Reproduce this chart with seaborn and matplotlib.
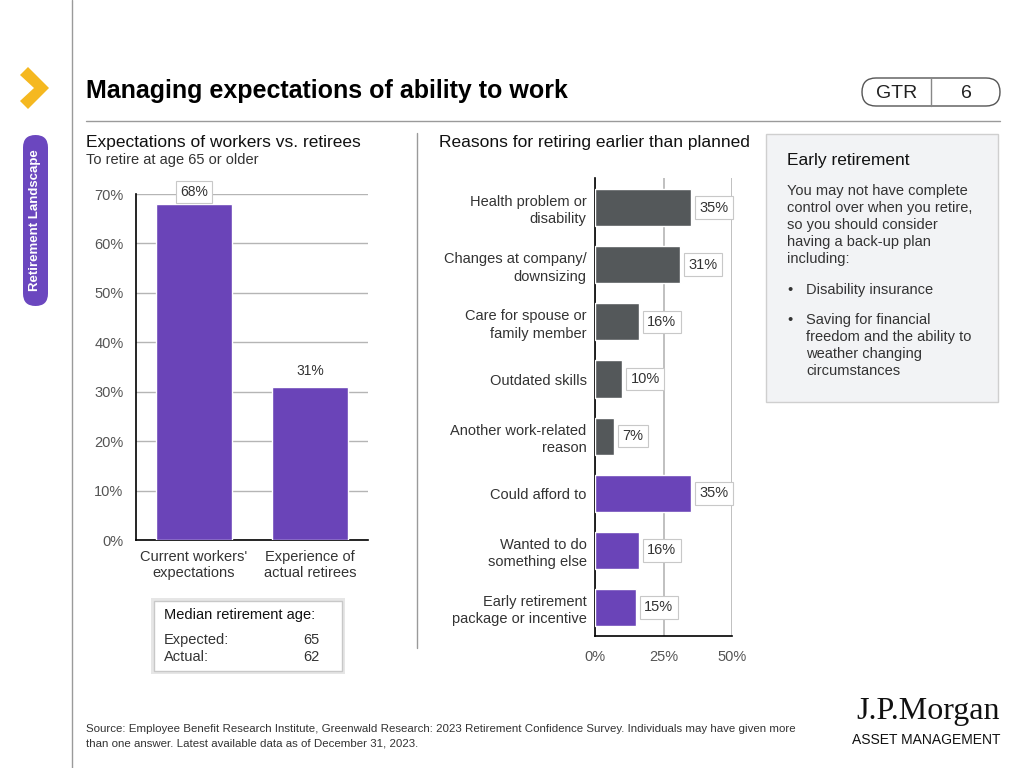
import matplotlib
matplotlib.use("Agg")
import matplotlib.pyplot as plt
from matplotlib.patches import FancyBboxPatch, Rectangle, Polygon
import seaborn as sns
import pandas as pd

# ---- data ----
expect_cats = ["Current workers'\nexpectations", "Experience of\nactual retirees"]
expect_vals = [68, 31]

reasons = [
    "Health problem or\ndisability",
    "Changes at company/\ndownsizing",
    "Care for spouse or\nfamily member",
    "Outdated skills",
    "Another work-related\nreason",
    "Could afford to",
    "Wanted to do\nsomething else",
    "Early retirement\npackage or incentive",
]
reason_vals = [35, 31, 16, 10, 7, 35, 16, 15]
reason_group = ["neg", "neg", "neg", "neg", "neg", "pos", "pos", "pos"]

PURPLE = "#6a44b8"
GRAY = "#54585a"
TXT = "#333333"

sns.set_theme(style="white")
plt.rcParams["font.family"] = ["Liberation Sans", "DejaVu Sans"]

W, H = 1024, 768
fig = plt.figure(figsize=(W / 100, H / 100), dpi=100)

# background overlay in pixel coordinates
bg = fig.add_axes([0, 0, 1, 1], zorder=-1)
bg.set_xlim(0, W)
bg.set_ylim(H, 0)
bg.axis("off")


def ax_rect(left, top, right, bottom):
    return [left / W, 1 - bottom / H, (right - left) / W, (bottom - top) / H]


# ---- left chart ----
ax1 = fig.add_axes(ax_rect(136, 194, 368, 540))
sns.barplot(x=expect_cats, y=expect_vals, color=PURPLE, width=0.65,
            saturation=1, ax=ax1, zorder=3)
ax1.set_xlim(-0.5, 1.5)
ax1.set_ylim(0, 70)
ax1.set_yticks(range(0, 71, 10))
ax1.set_yticklabels([f"{v}%" for v in range(0, 71, 10)])
ax1.grid(axis="y", color="#b5b5b5", lw=1, zorder=0)
ax1.set_axisbelow(True)
for s in ["top", "right"]:
    ax1.spines[s].set_visible(False)
for s in ["left", "bottom"]:
    ax1.spines[s].set_color("black")
    ax1.spines[s].set_linewidth(1.2)
ax1.tick_params(axis="y", length=0, pad=9, labelsize=10.5, labelcolor="#555555")
ax1.tick_params(axis="x", length=0, pad=7, labelsize=10.5, labelcolor=TXT)
for lab in ax1.get_xticklabels():
    lab.set_linespacing(1.25)
ax1.set_xlabel("")
ax1.set_ylabel("")
for i, v in enumerate(expect_vals):
    if i == 0:
        ax1.text(i, v + 1.0, f"{v}%", ha="center", va="bottom", fontsize=10,
                 color=TXT, bbox=dict(boxstyle="square,pad=0.3", fc="white", ec="#c8c8c8", lw=0.8),
                 zorder=5, clip_on=False)
    else:
        ax1.text(i, v + 1.8, f"{v}%", ha="center", va="bottom", fontsize=10,
                 color=TXT, zorder=5)

# ---- right chart ----
df = pd.DataFrame({"reason": reasons, "value": reason_vals, "group": reason_group})
ax2 = fig.add_axes(ax_rect(595, 178, 732, 636))
sns.barplot(data=df, y="reason", x="value", hue="group", dodge=False,
            palette={"neg": GRAY, "pos": PURPLE}, width=0.65, saturation=1,
            legend=False, ax=ax2, zorder=3)
ax2.set_xlim(0, 50)
ax2.set_ylim(7.5, -0.52)
ax2.set_xticks([0, 25, 50])
ax2.set_xticklabels(["0%", "25%", "50%"])
ax2.grid(axis="x", color="#b5b5b5", lw=1.2, zorder=0)
ax2.set_axisbelow(True)
for s in ["top", "right"]:
    ax2.spines[s].set_visible(False)
for s in ["left", "bottom"]:
    ax2.spines[s].set_color("black")
    ax2.spines[s].set_linewidth(1.2)
ax2.tick_params(axis="y", length=0, pad=6, labelsize=10.5, labelcolor=TXT)
ax2.tick_params(axis="x", length=0, pad=10, labelsize=10.5, labelcolor="#555555")
for lab in ax2.get_yticklabels():
    lab.set_linespacing(1.3)
ax2.set_xlabel("")
ax2.set_ylabel("")
for i, v in enumerate(reason_vals):
    ax2.text(v + 3.0, i, f"{v}%", ha="left", va="center", fontsize=10.5, color=TXT,
             bbox=dict(boxstyle="square,pad=0.3", fc="white", ec="#c8c8c8", lw=0.8),
             zorder=5, clip_on=False)

# ---- page furniture ----
bg.plot([72, 72], [0, H], color="#9a9a9a", lw=1)
bg.add_patch(Polygon([(20, 75), (28, 67), (49, 88), (28, 109), (20, 101), (34, 88)],
                     closed=True, fc="#f5b820", ec="none"))
bg.add_patch(FancyBboxPatch((23, 135), 25, 171, boxstyle="round,pad=0,rounding_size=12.5",
                            fc="#6b47bf", ec="none"))
bg.text(35.5, 220, "Retirement Landscape", rotation=90, ha="center", va="center",
        color="white", fontsize=9.5, fontweight="bold")

bg.text(86, 91, "Managing expectations of ability to work", fontsize=18,
        fontweight="bold", color="black", ha="left", va="center")
bg.plot([86, 1000], [121, 121], color="#9a9a9a", lw=1)

bg.add_patch(FancyBboxPatch((862, 78), 138, 28, boxstyle="round,pad=0,rounding_size=14",
                            fc="white", ec="#555555", lw=1))
bg.plot([931, 931], [78, 106], color="#888888", lw=1)
bg.text(897, 93, "GTR", ha="center", va="center", fontsize=14, color="#222222")
bg.text(966, 93, "6", ha="center", va="center", fontsize=14, color="#222222")

bg.text(86, 143, "Expectations of workers vs. retirees", fontsize=12.5, color="#111111",
        ha="left", va="center")
bg.text(86, 160, "To retire at age 65 or older", fontsize=10.5, color=TXT,
        ha="left", va="center")
bg.plot([417, 417], [133, 648], color="#9a9a9a", lw=1)
bg.text(439, 143, "Reasons for retiring earlier than planned", fontsize=12.5, color="#111111",
        ha="left", va="center")

# info box
bg.add_patch(Rectangle((766, 134), 232, 268, fc="#f2f3f5", ec="#cfcfcf", lw=1))
bg.text(787, 160, "Early retirement", fontsize=12.5, color="#111111", ha="left", va="center")
body = ["You may not have complete", "control over when you retire,",
        "so you should consider", "having a back-up plan", "including:"]
for k, line in enumerate(body):
    bg.text(787, 191 + 17 * k, line, fontsize=10.5, color=TXT, ha="left", va="center")
bg.text(790, 290, "\u2022", fontsize=10.5, color=TXT, ha="center", va="center")
bg.text(806, 290, "Disability insurance", fontsize=10.5, color=TXT, ha="left", va="center")
bullet2 = ["Saving for financial", "freedom and the ability to",
           "weather changing", "circumstances"]
bg.text(790, 320, "\u2022", fontsize=10.5, color=TXT, ha="center", va="center")
for k, line in enumerate(bullet2):
    bg.text(806, 320 + 17 * k, line, fontsize=10.5, color=TXT, ha="left", va="center")

# median box
bg.add_patch(Rectangle((151, 598), 194, 76, fc="#e6e6e6", ec="none"))
bg.add_patch(Rectangle((154, 601), 188, 70, fc="white", ec="#c8c8c8", lw=1))
bg.text(164, 615, "Median retirement age:", fontsize=10.5, color="#111111",
        ha="left", va="center")
bg.text(164, 640, "Expected:", fontsize=10.5, color=TXT, ha="left", va="center")
bg.text(320, 640, "65", fontsize=10.5, color=TXT, ha="right", va="center")
bg.text(164, 657, "Actual:", fontsize=10.5, color=TXT, ha="left", va="center")
bg.text(320, 657, "62", fontsize=10.5, color=TXT, ha="right", va="center")

# footer
bg.text(86, 729, "Source: Employee Benefit Research Institute, Greenwald Research: 2023 Retirement "
        "Confidence Survey. Individuals may have given more", fontsize=8.25, color=TXT,
        ha="left", va="center")
bg.text(86, 743, "than one answer. Latest available data as of December 31, 2023.",
        fontsize=8.25, color=TXT, ha="left", va="center")

bg.text(1000, 711, "J.P.Morgan", family="Liberation Serif", fontsize=23, color="#111111",
        ha="right", va="center")
bg.text(1000, 740, "ASSET MANAGEMENT", fontsize=10, color="#111111",
        ha="right", va="center")

fig.savefig("out.png", dpi=100)
